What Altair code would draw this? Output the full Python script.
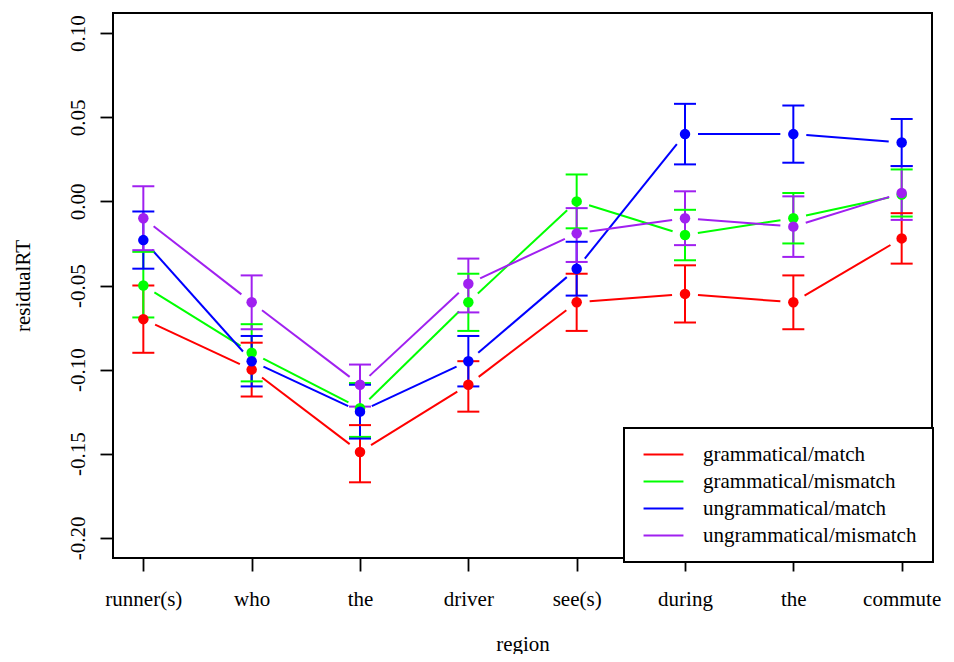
import math
import altair as alt
import pandas as pd

# ---------------- data ----------------
regions = ["runner(s)", "who", "the", "driver", "see(s)", "during", "the", "commute"]
series_names = ["grammatical/match", "grammatical/mismatch",
                "ungrammatical/match", "ungrammatical/mismatch"]
series_colors = ["#FF0000", "#00FF00", "#0000FF", "#A020F0"]

gm_mean = [-0.070, -0.100, -0.149, -0.109, -0.060, -0.055, -0.060, -0.022]
gm_hi = [-0.050, -0.084, -0.133, -0.095, -0.043, -0.038, -0.044, -0.007]
gm_lo = [-0.090, -0.116, -0.167, -0.125, -0.077, -0.072, -0.076, -0.037]

gmm_mean = [-0.050, -0.090, -0.123, -0.060, 0.000, -0.020, -0.010, 0.004]
gmm_hi = [-0.030, -0.073, -0.108, -0.043, 0.016, -0.005, 0.005, 0.019]
gmm_lo = [-0.069, -0.107, -0.140, -0.077, -0.016, -0.035, -0.025, -0.009]

um_mean = [-0.023, -0.095, -0.125, -0.095, -0.040, 0.040, 0.040, 0.035]
um_hi = [-0.006, -0.080, -0.109, -0.080, -0.024, 0.058, 0.057, 0.049]
um_lo = [-0.040, -0.110, -0.141, -0.110, -0.056, 0.022, 0.023, 0.021]

umm_mean = [-0.010, -0.060, -0.109, -0.049, -0.019, -0.010, -0.015, 0.005]
umm_hi = [0.009, -0.044, -0.097, -0.034, -0.004, 0.006, 0.003, 0.021]
umm_lo = [-0.029, -0.076, -0.122, -0.066, -0.036, -0.026, -0.033, -0.011]

y_ticks = [-0.20, -0.15, -0.10, -0.05, 0.00, 0.05, 0.10]

# ---------------- layout ----------------
W, H = 819, 545
XDOM = [0.72, 8.28]
YDOM = [-0.212, 0.112]
GAP = 13  # pixel gap between line ends and points (R type="b")
FONT = "Liberation Serif"
FS = 21

all_series = [
    (series_names[0], gm_mean, gm_lo, gm_hi),
    (series_names[1], gmm_mean, gmm_lo, gmm_hi),
    (series_names[2], um_mean, um_lo, um_hi),
    (series_names[3], umm_mean, umm_lo, umm_hi),
]

rows = []
for k, (name, m, lo, hi) in enumerate(all_series):
    for i in range(len(regions)):
        rows.append(dict(series=name, order=k, x=i + 1, y=m[i], lo=lo[i], hi=hi[i]))
df = pd.DataFrame(rows)

ppx = W / (XDOM[1] - XDOM[0])
ppy = H / (YDOM[1] - YDOM[0])
segs = []
for k, (name, m, lo, hi) in enumerate(all_series):
    for i in range(len(regions) - 1):
        x1, y1, x2, y2 = i + 1, m[i], i + 2, m[i + 1]
        L = math.hypot((x2 - x1) * ppx, (y2 - y1) * ppy)
        t = GAP / L
        segs.append(dict(series=name, order=k,
                         xa=x1 + t * (x2 - x1), ya=y1 + t * (y2 - y1),
                         xb=x2 - t * (x2 - x1), yb=y2 - t * (y2 - y1)))
sdf = pd.DataFrame(segs)

xs = alt.Scale(domain=XDOM, nice=False, zero=False)
ys = alt.Scale(domain=YDOM, nice=False, zero=False)

label_arr = "[" + ",".join("'" + r + "'" for r in regions) + "]"
xaxis = alt.Axis(
    title="region", values=list(range(1, len(regions) + 1)),
    labelExpr=label_arr + "[round(datum.value) - 1]",
    grid=False, domain=False, tickSize=13, tickWidth=1.8, tickColor="black",
    labelFont=FONT, labelFontSize=FS, labelColor="black", labelPadding=17,
    labelFlush=False, labelOverlap=False,
    titleFont=FONT, titleFontSize=FS, titleFontWeight="normal", titleColor="black",
    titleY=96, titleBaseline="bottom",
)
yaxis = alt.Axis(
    title="residualRT", values=y_ticks,
    labelExpr="(datum.value < -0.0001 ? '-' : '') + format(abs(datum.value), '.2f')",
    grid=False, domain=False, tickSize=13, tickWidth=1.8, tickColor="black",
    labelFont=FONT, labelFontSize=FS, labelColor="black", labelPadding=12,
    labelAngle=270, labelAlign="center", labelBaseline="bottom",
    labelFlush=False, labelOverlap=False,
    titleFont=FONT, titleFontSize=FS, titleFontWeight="normal", titleColor="black",
    titleX=-90, titleY=H / 2, titleAngle=270, titleAlign="center", titleBaseline="middle",
)

cscale = alt.Scale(domain=series_names, range=series_colors)
legend = alt.Legend(
    title=None, orient="none", legendX=511, legendY=415,
    symbolType="M-2.1,0H2.1", symbolSize=361, symbolStrokeWidth=2, symbolOffset=13,
    labelOffset=29, labelFont=FONT, labelFontSize=FS, labelColor="black",
    labelLimit=400, padding=16, rowPadding=5,
    strokeColor="black", fillColor="white",
)

X = lambda f: alt.X(f, scale=xs, axis=xaxis)
Y = lambda f: alt.Y(f, scale=ys, axis=yaxis)

bars = alt.Chart(df).mark_rule(strokeWidth=2).encode(
    x=X("x:Q"), y=Y("lo:Q"), y2="hi:Q",
    color=alt.Color("series:N", scale=cscale, legend=None),
    order="order:Q",
)
caps_hi = alt.Chart(df).mark_point(shape="M-1,0H1", size=484, strokeWidth=2,
                                   filled=False, opacity=1).encode(
    x=X("x:Q"), y=Y("hi:Q"),
    color=alt.Color("series:N", scale=cscale, legend=None),
)
caps_lo = alt.Chart(df).mark_point(shape="M-1,0H1", size=484, strokeWidth=2,
                                   filled=False, opacity=1).encode(
    x=X("x:Q"), y=Y("lo:Q"),
    color=alt.Color("series:N", scale=cscale, legend=None),
)
lines = alt.Chart(sdf).mark_rule(strokeWidth=2).encode(
    x=X("xa:Q"), y=Y("ya:Q"), x2="xb:Q", y2="yb:Q",
    color=alt.Color("series:N", scale=cscale, legend=legend),
)
points = alt.Chart(df).mark_circle(size=110, opacity=1).encode(
    x=X("x:Q"), y=Y("y:Q"),
    color=alt.Color("series:N", scale=cscale, legend=None),
)

chart = alt.layer(lines, bars, caps_hi, caps_lo, points).properties(
    width=W, height=H,
    autosize=alt.AutoSizeParams(type="none"),
    padding={"left": 105, "top": 5, "right": 14, "bottom": 96},
    background="white",
).configure_view(stroke="black", strokeWidth=2).configure_legend(strokeWidth=2)

chart.save("out.html", embed_options={"renderer": "svg", "actions": False})
